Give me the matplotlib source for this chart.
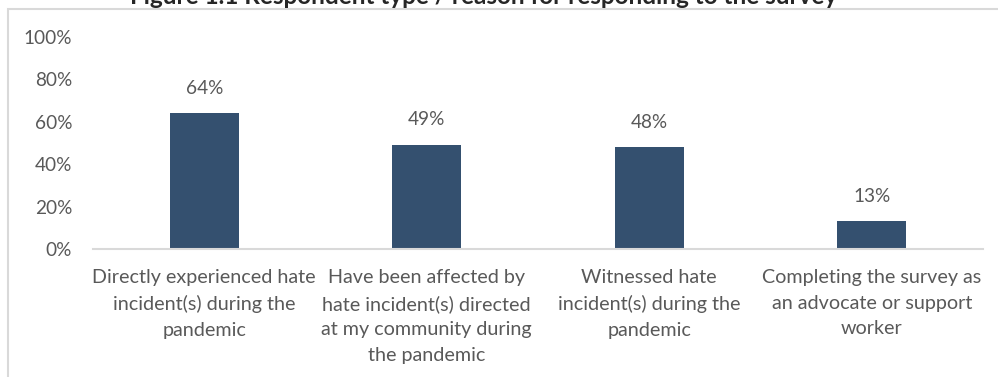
import matplotlib
matplotlib.use("Agg")
import matplotlib.pyplot as plt
from matplotlib.patches import Rectangle
from matplotlib.ticker import FuncFormatter

categories = [
    "Directly experienced hate\nincident(s) during the\npandemic",
    "Have been affected by\nhate incident(s) directed\nat my community during\nthe pandemic",
    "Witnessed hate\nincident(s) during the\npandemic",
    "Completing the survey as\nan advocate or support\nworker",
]
values = [64, 49, 48, 13]
value_labels = ["64%", "49%", "48%", "13%"]
yticks = [0, 20, 40, 60, 80, 100]
title = "Figure 1.1 Respondent type / reason for responding to the survey"

W, H = 998, 377
fig = plt.figure(figsize=(W / 100, H / 100), dpi=100)
plt.rcParams['font.family'] = ['Lato', 'DejaVu Sans']

gray = "#595959"
bar_color = "#34506F"

# chart frame (partially outside the image)
fig.add_artist(Rectangle((8 / W, -0.1), 1.2, (H - 9) / H + 0.1, transform=fig.transFigure,
                         fill=False, edgecolor="#D9D9D9", linewidth=1.5))

# title, clipped at the top edge as in the original
fig.text(484 / W, 1 - 4.5 / H, title, ha="center", va="baseline", fontsize=17.5,
         fontweight="bold", color="#262626")

left, right = 93 / W, 983 / W
bottom, top = 1 - 249 / H, 1 - 37 / H
ax = fig.add_axes([left, bottom, right - left, top - bottom])
x = range(len(categories))
ax.bar(x, values, width=0.31, color=bar_color)
ax.set_xlim(-0.5, len(categories) - 0.5)
ax.set_ylim(0, 100)
ax.set_yticks(yticks)
ax.yaxis.set_major_formatter(FuncFormatter(lambda v, p: f"{int(v)}%"))
ax.set_xticks(list(x))
ax.set_xticklabels(categories, fontsize=14.2, color=gray, linespacing=1.6)
for lab in ax.get_yticklabels():
    lab.set_fontsize(13.7)
    lab.set_color(gray)
ax.tick_params(axis="both", length=0)
ax.tick_params(axis="x", pad=14.5)
ax.tick_params(axis="y", pad=15)
for s in ["top", "right", "left"]:
    ax.spines[s].set_visible(False)
ax.spines["bottom"].set_color("#D9D9D9")
ax.spines["bottom"].set_linewidth(1.5)
ax.patch.set_alpha(0)

for xi, v, lab in zip(x, values, value_labels):
    ax.annotate(lab, (xi, v), xytext=(0, 12), textcoords="offset points",
                ha="center", va="bottom", fontsize=13.7, color=gray)

fig.savefig("out.png", dpi=100)
